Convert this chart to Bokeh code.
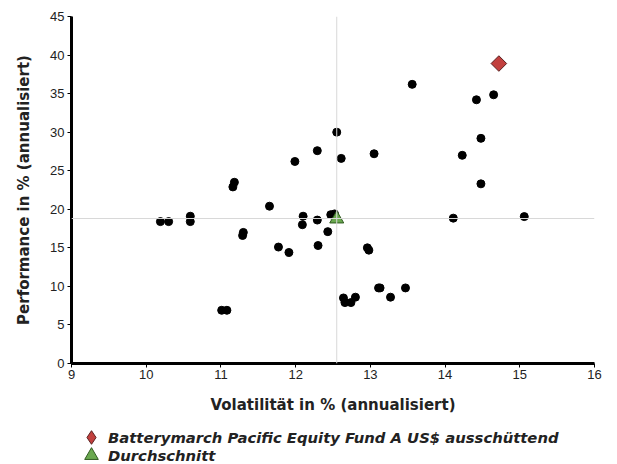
from bokeh.plotting import figure
from bokeh.layouts import column
from bokeh.models import Span, Legend, LegendItem, Range1d, FixedTicker
from bokeh.embed import file_html
from bokeh.resources import INLINE
import math

# Peer funds (volatility %, performance %)
peer_vol = [13.56, 14.42, 14.65, 14.48, 14.23, 14.48, 14.11, 15.06, 12.55, 12.29,
            12.61, 13.05, 11.99, 11.16, 11.18, 11.65, 10.19, 10.30, 10.59, 10.59,
            11.30, 11.29, 11.77, 11.91, 12.10, 12.09, 12.29, 12.30, 12.43, 12.47,
            12.52, 11.01, 11.08, 12.64, 12.66, 12.74, 12.80, 12.96, 12.98, 13.11,
            13.13, 13.27, 13.47]
peer_perf = [36.2, 34.2, 34.85, 29.2, 27.0, 23.3, 18.85, 19.05, 30.0, 27.6,
             26.6, 27.2, 26.2, 22.9, 23.5, 20.4, 18.4, 18.4, 19.1, 18.4,
             17.0, 16.6, 15.1, 14.4, 19.1, 18.0, 18.6, 15.3, 17.1, 19.3,
             19.4, 6.9, 6.9, 8.5, 7.9, 7.9, 8.6, 15.0, 14.7, 9.8,
             9.8, 8.6, 9.8]

fund_name = "Batterymarch Pacific Equity Fund A US$ ausschüttend"
fund_vol = [14.72]
fund_perf = [38.9]

avg_name = "Durchschnitt"
avg_vol = [12.55]
avg_perf = [18.75]

x_ticks = [9, 10, 11, 12, 13, 14, 15, 16]
y_ticks = [0, 5, 10, 15, 20, 25, 30, 35, 40, 45]

TICK_FONT = "Liberation Sans"
LABEL_FONT = "DejaVu Sans"

FUND_COLORS = dict(fill_color="#c2403e", line_color="#5a1f1e", line_width=1)
AVG_STYLE = dict(marker="triangle", fill_color="#6aa84f", line_color="#2f5a1f", line_width=1)

p = figure(width=617, height=418, output_backend="svg", toolbar_location=None,
           x_range=Range1d(9, 16), y_range=Range1d(0, 45),
           min_border_left=71, min_border_right=23, min_border_top=16, min_border_bottom=55)
p.outline_line_color = None
p.grid.visible = False

# reference lines at the averages
p.add_layout(Span(location=avg_vol[0], dimension="height", line_color="#d8d8d8", line_width=1))
p.add_layout(Span(location=avg_perf[0] + 0.05, dimension="width", line_color="#d8d8d8", line_width=1))

p.scatter(peer_vol, peer_perf, marker="circle", size=8, fill_color="black", line_color="black")
p.scatter(avg_vol, avg_perf, size=14, **AVG_STYLE)
p.scatter(fund_vol, fund_perf, marker="square", angle=math.pi / 4, size=11, **FUND_COLORS)

for ax in (p.xaxis[0], p.yaxis[0]):
    ax.axis_line_width = 3
    ax.axis_line_color = "black"
    ax.major_tick_line_color = "black"
    ax.major_tick_line_width = 1
    ax.major_tick_out = 4
    ax.major_tick_in = 0
    ax.minor_tick_line_color = None
    ax.major_label_text_font = TICK_FONT
    ax.major_label_text_font_size = "13px"
    ax.major_label_text_color = "#222222"
    ax.axis_label_text_font = LABEL_FONT
    ax.axis_label_text_font_size = "15px"
    ax.axis_label_text_font_style = "bold"
    ax.axis_label_text_color = "#222222"

p.xaxis.ticker = FixedTicker(ticks=x_ticks)
p.yaxis.ticker = FixedTicker(ticks=y_ticks)
p.xaxis.axis_label = "Volatilität in % (annualisiert)"
p.yaxis.axis_label = "Performance in % (annualisiert)"
p.xaxis.axis_label_standoff = 14
p.yaxis.axis_label_standoff = 14
p.xaxis.major_label_standoff = 2
p.yaxis.major_label_standoff = 3

# legend strip below the chart (its frame is aligned with the chart frame)
lg = figure(width=617, height=46, output_backend="svg", toolbar_location=None,
            x_range=Range1d(0, 1), y_range=Range1d(0, 1),
            x_axis_type=None, y_axis_type=None,
            min_border_left=71, min_border_right=23, min_border_top=0, min_border_bottom=0)
lg.outline_line_color = None
lg.grid.visible = False
# legend proxies: same data, lying outside this strip's ranges so only the legend shows
lr_fund = lg.scatter(fund_vol, fund_perf, marker="diamond", size=11, **FUND_COLORS)
lr_avg = lg.scatter(avg_vol, avg_perf, size=14, **AVG_STYLE)


def make_legend(label, renderer, loc):
    leg = Legend(items=[LegendItem(label=label, renderers=[renderer])],
                 location=loc, orientation="vertical")
    leg.border_line_color = None
    leg.background_fill_alpha = 0
    leg.label_text_font = LABEL_FONT
    leg.label_text_font_size = "14.8px"
    leg.label_text_font_style = "bold italic"
    leg.label_text_color = "#222222"
    leg.glyph_width = 34
    leg.glyph_height = 34
    leg.label_height = 34
    leg.label_standoff = 0
    leg.spacing = 0
    leg.padding = 0
    leg.margin = 0
    return leg


lg.add_layout(make_legend(fund_name, lr_fund, (3, 10)))
lg.add_layout(make_legend(avg_name, lr_avg, (3, -8)))

open("out.html", "w").write(file_html(column(p, lg, spacing=0), INLINE))
